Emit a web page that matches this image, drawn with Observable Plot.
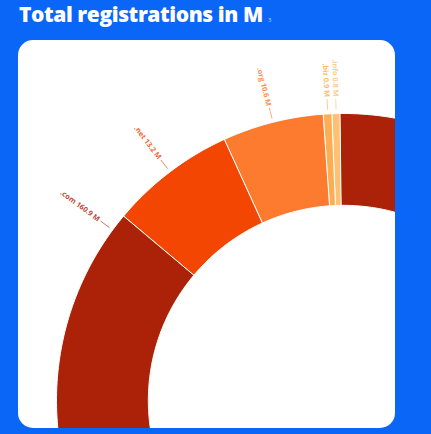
<!DOCTYPE html>
<html><head><meta charset="utf-8">
<script src="https://cdn.jsdelivr.net/npm/d3@7"></script>
<script src="https://cdn.jsdelivr.net/npm/@observablehq/plot@0.6"></script>
<style>
html,body{margin:0;padding:0;background:#0a66f6;width:431px;height:434px;overflow:hidden;}
#title{position:absolute;left:19px;top:-1px;font-family:"Open Sans",sans-serif;font-weight:800;font-size:21px;line-height:30px;color:#fff;white-space:nowrap;letter-spacing:-0.4px;}
#title .note{font-size:6px;font-weight:400;color:#b9cff5;margin-left:5px;letter-spacing:0;}
#card{position:absolute;left:18px;top:40px;width:377px;height:388px;background:#fff;border-radius:15px;overflow:hidden;}
#card svg{display:block;}
</style></head><body>
<div id="title">Total registrations in M<span class="note">3</span></div>
<div id="card"></div>
<script>
const tlds = [".com", ".net", ".org", ".biz", ".info"];
const registrations = [160.9, 13.2, 10.6, 0.9, 0.8];
const sliceColors = ["#ab2208", "#f24602", "#fc7b2f", "#fdae55", "#fec173"];
const unitLabel = " M";

const W = 377, H = 388;
const cx = 325, cy = 360, R = 287, innerRatio = 0.68;
const deg = Math.PI / 180;
const start = -0.7 * deg;
const arcs = d3.pie().sort(null).startAngle(start).endAngle(start + 2 * Math.PI)(registrations);

const pts = [];
arcs.forEach((a, i) => {
  const n = Math.max(2, Math.ceil((a.endAngle - a.startAngle) / (0.5 * deg)));
  for (let k = 0; k <= n; k++) {
    const t = a.startAngle + (a.endAngle - a.startAngle) * k / n;
    pts.push({tld: tlds[i], x: Math.sin(t), y: -Math.cos(t)});
  }
  for (let k = n; k >= 0; k--) {
    const t = a.startAngle + (a.endAngle - a.startAngle) * k / n;
    pts.push({tld: tlds[i], x: innerRatio * Math.sin(t), y: -innerRatio * Math.cos(t)});
  }
});

const labels = arcs.map((a, i) => {
  // largest slice: label sits near its visible end; others at mid-angle
  const t = i === 0 ? a.endAngle - 3.6 * deg : (a.startAngle + a.endAngle) / 2;
  const r0 = 1 + 4 / R, r1 = 1 + 15 / R, rt = 1 + 17 / R;
  return {
    tld: tlds[i],
    text: tlds[i] + " " + registrations[i] + unitLabel,
    x1: r0 * Math.sin(t), y1: -r0 * Math.cos(t),
    x2: r1 * Math.sin(t), y2: -r1 * Math.cos(t),
    x: rt * Math.sin(t), y: -rt * Math.cos(t),
    rotate: t / deg + 90
  };
});

const plot = Plot.plot({
  width: W, height: H, margin: 0,
  x: {domain: [-cx / R, (W - cx) / R], range: [0, W], axis: null},
  y: {domain: [-cy / R, (H - cy) / R], range: [0, H], axis: null},
  color: {domain: tlds, range: sliceColors},
  style: {background: "transparent", overflow: "hidden"},
  marks: [
    Plot.line(pts, {x: "x", y: "y", z: "tld", fill: "tld", stroke: "white", strokeWidth: 1, curve: "linear-closed"}),
    Plot.link(labels, {x1: "x1", y1: "y1", x2: "x2", y2: "y2", stroke: "tld", strokeWidth: 0.8, strokeOpacity: 0.8}),
    Plot.text(labels, {x: "x", y: "y", text: "text", rotate: "rotate", textAnchor: "end", fill: "tld", fillOpacity: 0.85, fontSize: 7.3, fontWeight: 700, fontFamily: "Open Sans"})
  ]
});
document.getElementById("card").appendChild(plot);
</script>
</body></html>
